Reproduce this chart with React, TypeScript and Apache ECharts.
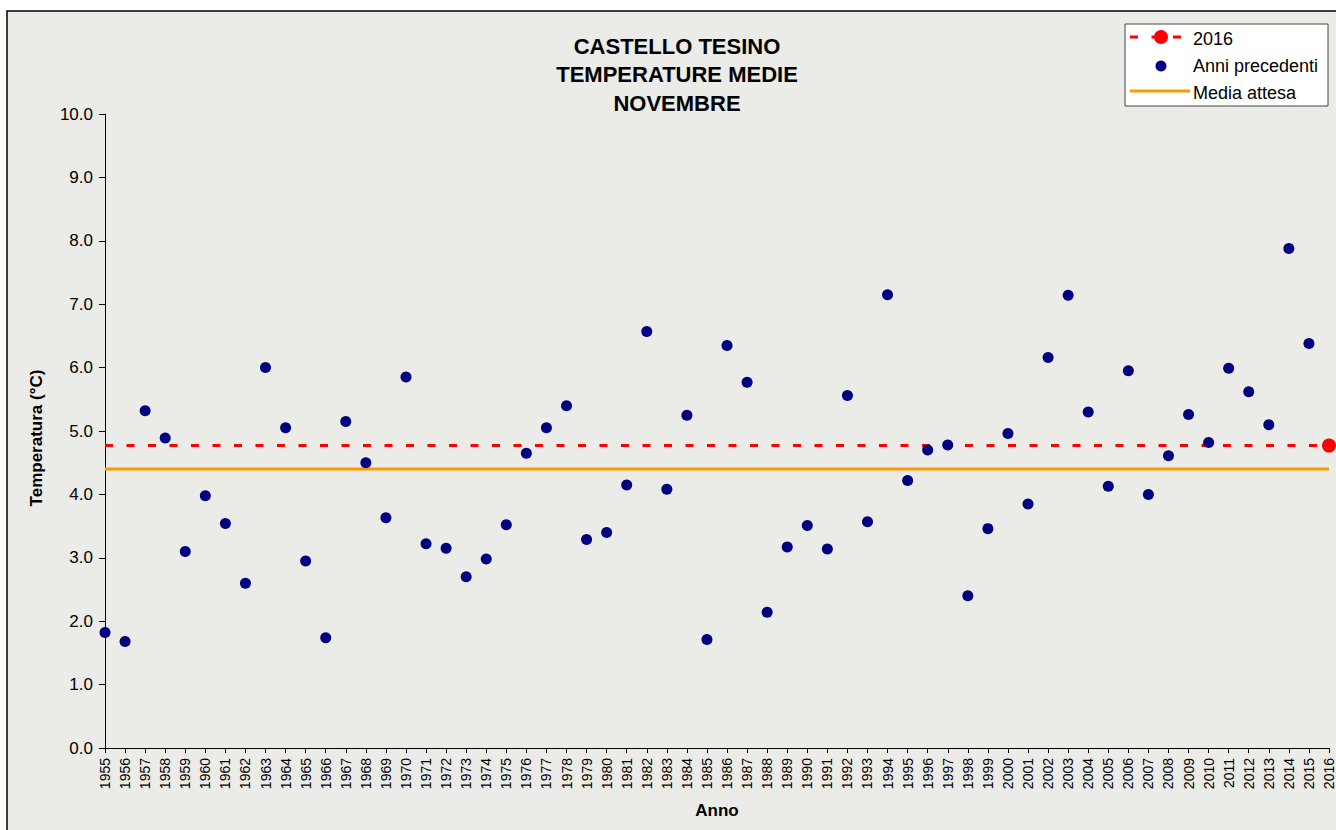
import React, { useEffect, useRef } from "react";
import * as echarts from "echarts";

const FONT = "'Liberation Sans', Arial, Helvetica, sans-serif";

const firstYear = 1955;
const lastYear = 2016;
const years: string[] = Array.from({ length: lastYear - firstYear + 1 }, (_, i) => String(firstYear + i));

// Anni precedenti: 1955 .. 2015
const previousYears: number[] = [
  1.82, 1.68, 5.32, 4.89, 3.10, 3.98, 3.54, 2.60, 6.00, 5.05, // 1955-1964
  2.95, 1.74, 5.15, 4.50, 3.63, 5.85, 3.22, 3.15, 2.70, 2.98, // 1965-1974
  3.52, 4.65, 5.05, 5.40, 3.29, 3.40, 4.15, 6.57, 4.08, 5.25, // 1975-1984
  1.71, 6.35, 5.77, 2.14, 3.17, 3.51, 3.14, 5.56, 3.57, 7.15, // 1985-1994
  4.22, 4.70, 4.78, 2.40, 3.46, 4.96, 3.85, 6.16, 7.14, 5.30, // 1995-2004
  4.13, 5.95, 4.00, 4.61, 5.26, 4.82, 5.99, 5.62, 5.10, 7.88, // 2005-2014
  6.38, // 2015
];

const value2016 = 4.77;
const mediaAttesa = 4.40;

const yTicks = [0, 1, 2, 3, 4, 5, 6, 7, 8, 9, 10];
const titleLines = ["CASTELLO TESINO", "TEMPERATURE MEDIE", "NOVEMBRE"];
const legendLabels = ["2016", "Anni precedenti", "Media attesa"];

const RED = "#FF0000";
const NAVY = "#000080";
const ORANGE = "#FF9900";

export default function App() {
  const ref = useRef<HTMLDivElement>(null);

  useEffect(() => {
    if (!ref.current) return;
    const chart = echarts.init(ref.current, null, { renderer: "svg" });

    const scatterData = previousYears.map((v, i) => [years[i], v]);
    const line2016 = [
      { value: [years[0], value2016], symbol: "none" },
      { value: [years[years.length - 1], value2016] },
    ];
    const lineMedia = [
      [years[0], mediaAttesa],
      [years[years.length - 1], mediaAttesa],
    ];

    const option: any = {
      animation: false,
      backgroundColor: "transparent",
      textStyle: { fontFamily: FONT },
      title: {
        text: titleLines.join("\n"),
        left: 672,
        top: 27,
        textAlign: "center",
        textStyle: {
          fontFamily: FONT,
          fontSize: 22,
          fontWeight: "bold",
          color: "#000",
          lineHeight: 28.5,
        },
      },
      grid: { left: 105, right: 7, top: 114, bottom: 82, containLabel: false },
      xAxis: {
        type: "category",
        data: years,
        boundaryGap: false,
        name: "Anno",
        nameLocation: "middle",
        nameGap: 54,
        nameTextStyle: { fontFamily: FONT, fontSize: 17, fontWeight: "bold", color: "#000" },
        axisLine: { show: true, lineStyle: { color: "#000", width: 1 } },
        axisTick: { show: true, interval: 0, length: 5, lineStyle: { color: "#000" } },
        axisLabel: {
          interval: 0,
          rotate: 90,
          margin: 10,
          fontFamily: FONT,
          fontSize: 14,
          color: "#000",
        },
        splitLine: { show: false },
      },
      yAxis: {
        type: "value",
        min: yTicks[0],
        max: yTicks[yTicks.length - 1],
        interval: 1,
        name: "Temperatura (°C)",
        nameLocation: "middle",
        nameRotate: 90,
        nameGap: 60,
        nameTextStyle: { fontFamily: FONT, fontSize: 17, fontWeight: "bold", color: "#000", padding: [0, 14, 0, 0] },
        axisLine: { show: true, lineStyle: { color: "#000", width: 1 } },
        axisTick: { show: true, length: 6, lineStyle: { color: "#000" } },
        axisLabel: {
          margin: 12,
          fontFamily: FONT,
          fontSize: 17,
          color: "#000",
          formatter: (v: number) => v.toFixed(1),
        },
        splitLine: { show: false },
      },
      series: [
        {
          name: "Media attesa",
          type: "line",
          data: lineMedia,
          symbol: "none",
          lineStyle: { color: ORANGE, width: 3 },
          z: 2,
        },
        {
          name: "2016",
          type: "line",
          data: line2016,
          symbol: "circle",
          symbolSize: 14,
          itemStyle: { color: RED, opacity: 1 },
          lineStyle: { color: RED, width: 3, type: [8, 13.5] },
          z: 3,
        },
        {
          name: "Anni precedenti",
          type: "scatter",
          data: scatterData,
          symbol: "circle",
          symbolSize: 11,
          itemStyle: { color: NAVY, opacity: 1 },
          z: 4,
        },
      ],
      graphic: [
        {
          type: "rect",
          z: -10,
          silent: true,
          shape: { x: 7, y: 11, width: 1340, height: 830 },
          style: { fill: "#ebebe8", stroke: "#000", lineWidth: 1.5 },
        },
        {
          type: "group",
          z: 100,
          children: [
            {
              type: "rect",
              shape: { x: 1125, y: 24, width: 203, height: 82 },
              style: { fill: "#fff", stroke: "#444", lineWidth: 1 },
            },
            {
              type: "line",
              shape: { x1: 1130, y1: 37, x2: 1182, y2: 37 },
              style: { stroke: RED, lineWidth: 3, lineDash: [8, 13.5] },
            },
            {
              type: "circle",
              shape: { cx: 1161, cy: 37, r: 7 },
              style: { fill: RED },
            },
            {
              type: "circle",
              shape: { cx: 1161, cy: 66, r: 5.5 },
              style: { fill: NAVY },
            },
            {
              type: "line",
              shape: { x1: 1130, y1: 91, x2: 1190, y2: 91 },
              style: { stroke: ORANGE, lineWidth: 3 },
            },
            ...legendLabels.map((t, i) => ({
              type: "text",
              style: {
                text: t,
                x: 1193,
                y: 39 + i * 27,
                verticalAlign: "middle",
                align: "left",
                fontFamily: FONT,
                fontSize: 18,
                fill: "#000",
              },
            })),
          ],
        },
      ],
    };

    chart.setOption(option);
    return () => chart.dispose();
  }, []);

  return (
    <div
      style={{ position: "fixed", left: 0, top: 0, width: 1336, height: 830, background: "#fff" }}
    >
      <div ref={ref} style={{ width: 1336, height: 830 }} />
    </div>
  );
}
